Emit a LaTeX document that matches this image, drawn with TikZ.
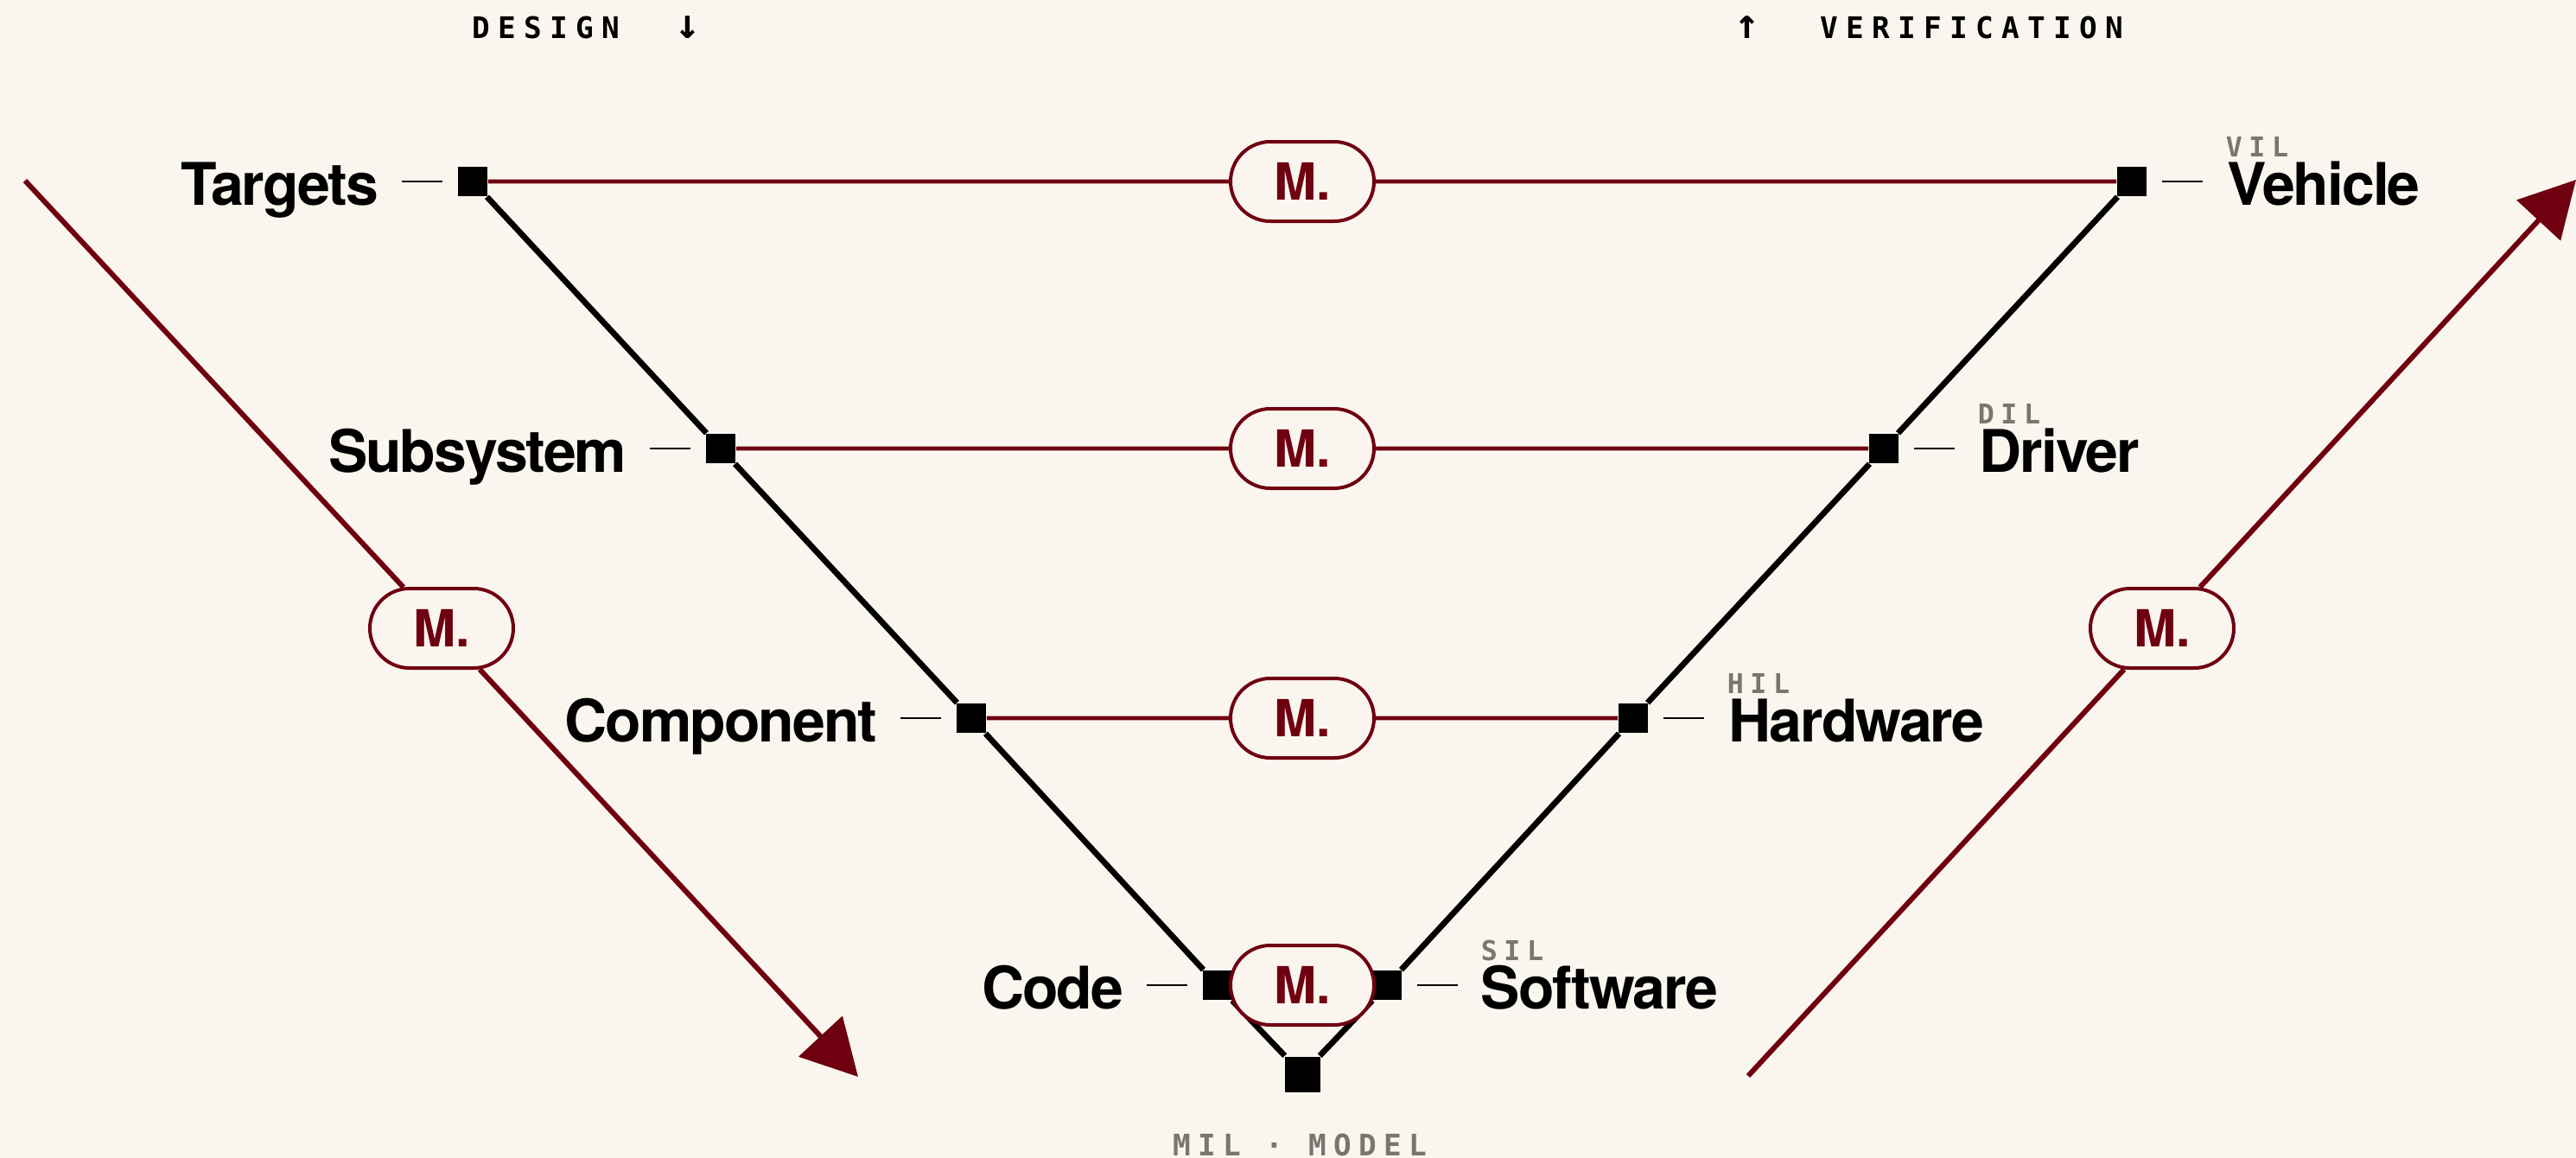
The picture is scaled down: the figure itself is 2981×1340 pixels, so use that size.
\documentclass[tikz,border=0pt]{standalone}
\usepackage{fontspec}
\setmainfont{TeX Gyre Heros}
\newfontfamily\stagefont[LetterSpace=-3]{TeX Gyre Heros}
\newfontfamily\capsfont[LetterSpace=24]{DejaVu Sans Mono}
\newfontfamily\headfont[LetterSpace=27]{DejaVu Sans Mono}
\newfontfamily\arrowfont{DejaVu Sans Mono}
\usepackage{xcolor}
\usepackage{tikz}
\usetikzlibrary{positioning,shapes.misc,arrows.meta}

\definecolor{paper}{HTML}{FAF6EF}
\definecolor{vred}{HTML}{6F0010}
\definecolor{stone}{HTML}{7A756F}

\newcommand{\bigarrow}[1]{{\arrowfont\fontsize{12}{12}\selectfont #1}}

\begin{document}
\begin{tikzpicture}[x=0.25pt, y=-0.25pt,
		sq/.style={fill=black, minimum size=8.5pt, inner sep=0pt},
		pill/.style={rounded rectangle, draw=vred, line width=1pt, fill=paper,
			minimum width=41.5pt, minimum height=23pt, inner sep=0pt,
			text=vred, font=\bfseries\fontsize{14.8}{14.8}\selectfont},
		stage/.style={inner sep=0pt, font=\stagefont\bfseries\fontsize{17}{17}\selectfont},
		tag/.style={inner sep=0pt, text=stone, font=\capsfont\bfseries\fontsize{7.9}{7.9}\selectfont},
		head/.style={inner sep=0pt, font=\headfont\bfseries\fontsize{8.6}{8.6}\selectfont},
		base/.style={inner sep=0pt, text=stone, font=\capsfont\bfseries\fontsize{8.6}{8.6}\selectfont},
		vee/.style={line width=1.7pt},
		rung/.style={draw=vred, line width=1.2pt},
		tick/.style={line width=0.5pt},
		flow/.style={draw=vred, line width=1.5pt, -{Triangle[length=16pt,width=17pt]}}]

\useasboundingbox (0,0) rectangle (2981,1340);
\fill[paper] (0,0) rectangle (2981,1340);

% squares on the V
\node[sq] (tg) at (547,210) {};
\node[sq] (ss) at (834,519) {};
\node[sq] (cp) at (1124,831) {};
\node[sq] (cd) at (1409,1140) {};
\node[sq, minimum size=10.25pt] (ml) at (1507,1243) {};
\node[sq] (sw) at (1605,1140) {};
\node[sq] (hw) at (1890,831) {};
\node[sq] (dr) at (2180,519) {};
\node[sq] (vh) at (2467,210) {};

\draw[vee] (tg) -- (ss) -- (cp) -- (cd) -- (ml) -- (sw) -- (hw) -- (dr) -- (vh);

% design side
\node[stage, anchor=base east, xshift=-27pt, yshift=-6.75pt] (tgl) at (tg) {Targets};
\node[stage, anchor=base east, xshift=-27pt, yshift=-6.75pt] (ssl) at (ss) {Subsystem};
\node[stage, anchor=base east, xshift=-27pt, yshift=-6.75pt] (cpl) at (cp) {Component};
\node[stage, anchor=base east, xshift=-27pt, yshift=-6.75pt] (cdl) at (cd) {Code};
\draw[tick] ([xshift=-16pt]tg.west) -- ([xshift=-4.25pt]tg.west);
\draw[tick] ([xshift=-16pt]ss.west) -- ([xshift=-4.25pt]ss.west);
\draw[tick] ([xshift=-16pt]cp.west) -- ([xshift=-4.25pt]cp.west);
\draw[tick] ([xshift=-16pt]cd.west) -- ([xshift=-4.25pt]cd.west);

% verification side
\node[stage, anchor=base west, xshift=27.5pt, yshift=-6.75pt] (vhl) at (vh) {Vehicle};
\node[stage, anchor=base west, xshift=27.5pt, yshift=-6.75pt] (drl) at (dr) {Driver};
\node[stage, anchor=base west, xshift=27.5pt, yshift=-6.75pt] (hwl) at (hw) {Hardware};
\node[stage, anchor=base west, xshift=27pt, yshift=-6.75pt] (swl) at (sw) {Software};
\node[tag, anchor=base west, xshift=27pt, yshift=7.25pt] (vht) at (vh) {VIL};
\node[tag, anchor=base west, xshift=27pt, yshift=7.25pt] (drt) at (dr) {DIL};
\node[tag, anchor=base west, xshift=27pt, yshift=7.25pt] (hwt) at (hw) {HIL};
\node[tag, anchor=base west, xshift=27pt, yshift=7.25pt] (swt) at (sw) {SIL};
\draw[tick] ([xshift=4.25pt]vh.east) -- ([xshift=16pt]vh.east);
\draw[tick] ([xshift=4.25pt]dr.east) -- ([xshift=16pt]dr.east);
\draw[tick] ([xshift=4.25pt]hw.east) -- ([xshift=16pt]hw.east);
\draw[tick] ([xshift=4.25pt]sw.east) -- ([xshift=16pt]sw.east);

% model pills between the two sides
\node[pill] (p1) at (1507,210) {M.};
\node[pill] (p2) at (1507,519) {M.};
\node[pill] (p3) at (1507,831) {M.};
\node[pill] (p4) at (1507,1140) {M.};
\draw[rung] (tg) -- (p1) -- (vh);
\draw[rung] (ss) -- (p2) -- (dr);
\draw[rung] (cp) -- (p3) -- (hw);

% flow arrows
\coordinate (ds) at (29,209);
\coordinate (de) at (993,1246);
\coordinate (vs) at (2023,1245);
\coordinate (ve) at (2981,208);
\node[pill] (fl) at (511,727) {M.};
\node[pill] (fr) at (2502,727) {M.};
\draw[flow] (ds) -- (fl) -- (de);
\draw[flow] (vs) -- (fr) -- (ve);

% headings
\node[head, anchor=base west] (dsg) at (546,44) {DESIGN\hspace{16pt}\bigarrow{↓}};
\node[head, anchor=base east] (vrf) at (2458,44) {\bigarrow{↑}\hspace{17.5pt}VERIFICATION};
\node[base, anchor=base] (mil) at (1504,1337) {MIL~·~MODEL};

\end{tikzpicture}
\end{document}
